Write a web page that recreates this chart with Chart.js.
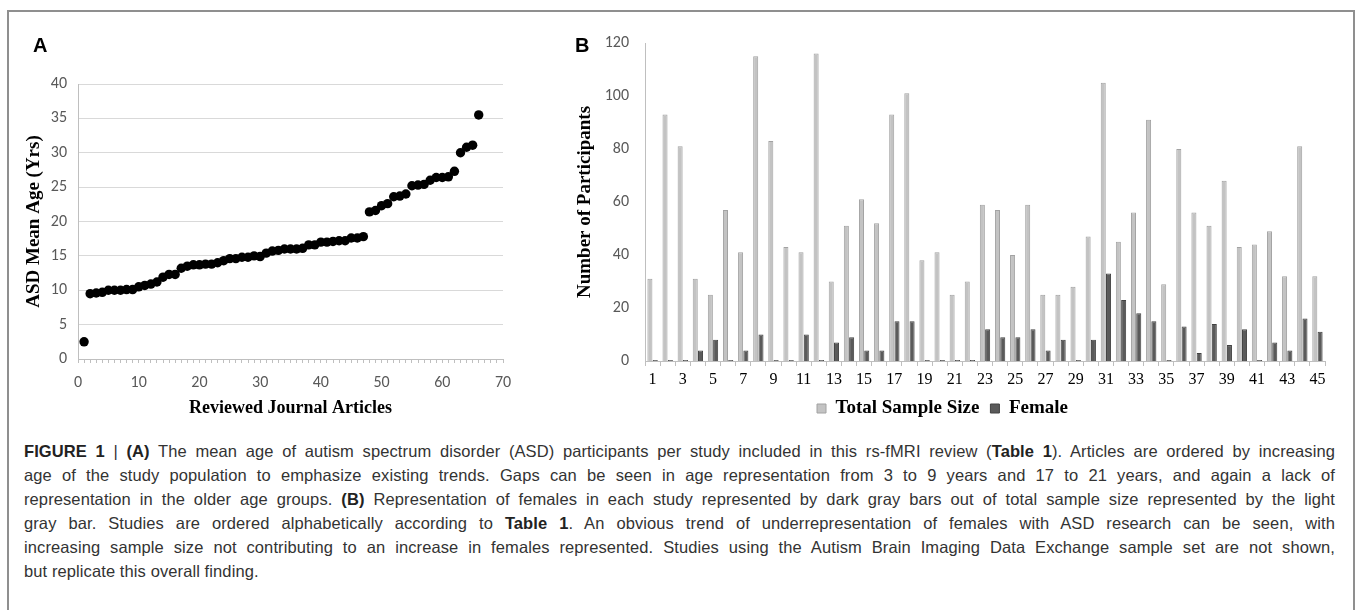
<!DOCTYPE html>
<html><head><meta charset="utf-8">
<script src="https://cdn.jsdelivr.net/npm/chart.js@4.4.1/dist/chart.umd.min.js"></script>
<style>
html,body{margin:0;padding:0;background:#fff}
body{width:1356px;height:610px;overflow:hidden;position:relative;font-family:'Liberation Sans',Arial,sans-serif}
#frame{position:absolute;left:7px;top:10px;width:1348px;height:640px;border:2px solid #8f8f8f;box-sizing:border-box}
#wa{position:absolute;left:0;top:0;width:560px;height:420px}
#wb{position:absolute;left:560px;top:0;width:790px;height:428px}
.lab{position:absolute;font-weight:bold;font-size:20px;font-family:'Liberation Sans',Arial,sans-serif;color:#000;line-height:20px}
#cap{position:absolute;left:24px;top:439px;font-size:16.5px;color:#333;line-height:24px;letter-spacing:0.1px}
#cap div{width:1311px;white-space:nowrap}
#cap b{color:#222}
</style></head>
<body>
<div id="frame"></div>
<div id="wa"><canvas id="ca" width="560" height="420"></canvas></div>
<div id="wb"><canvas id="cb" width="790" height="428"></canvas></div>
<div class="lab" style="left:33px;top:35px">A</div>
<div class="lab" style="left:575px;top:35px">B</div>
<div id="cap">
<div class="fit"><b>FIGURE 1</b> | <b>(A)</b> The mean age of autism spectrum disorder (ASD) participants per study included in this rs-fMRI review (<b>Table 1</b>). Articles are ordered by increasing</div>
<div class="fit">age of the study population to emphasize existing trends. Gaps can be seen in age representation from 3 to 9 years and 17 to 21 years, and again a lack of</div>
<div class="fit">representation in the older age groups. <b>(B)</b> Representation of females in each study represented by dark gray bars out of total sample size represented by the light</div>
<div class="fit">gray bar. Studies are ordered alphabetically according to <b>Table 1</b>. An obvious trend of underrepresentation of females with ASD research can be seen, with</div>
<div class="fit">increasing sample size not contributing to an increase in females represented. Studies using the Autism Brain Imaging Data Exchange sample set are not shown,</div>
<div>but replicate this overall finding.</div>
</div>
<script>
// ---- Panel A data ----
const articleIndex = [1,2,3,4,5,6,7,8,9,10,11,12,13,14,15,16,17,18,19,20,21,22,23,24,25,26,27,28,29,30,31,32,33,34,35,36,37,38,39,40,41,42,43,44,45,46,47,48,49,50,51,52,53,54,55,56,57,58,59,60,61,62,63,64,65,66];
const meanAge = [2.5,9.5,9.6,9.7,10.0,10.0,10.0,10.1,10.1,10.5,10.7,10.9,11.2,11.9,12.3,12.3,13.2,13.5,13.7,13.7,13.8,13.8,14.0,14.3,14.6,14.6,14.8,14.8,15.0,14.9,15.4,15.7,15.8,16.0,16.0,16.0,16.1,16.6,16.6,17.0,17.0,17.1,17.2,17.2,17.6,17.6,17.8,21.4,21.6,22.3,22.6,23.6,23.7,24.0,25.2,25.3,25.4,26.0,26.4,26.4,26.5,27.3,30.0,30.8,31.1,35.5];
const ageTickStep = 5;
// ---- Panel B data ----
const studyLabels = ['1','2','3','4','5','6','7','8','9','10','11','12','13','14','15','16','17','18','19','20','21','22','23','24','25','26','27','28','29','30','31','32','33','34','35','36','37','38','39','40','41','42','43','44','45'];
const totalSample = [31,93,81,31,25,57,41,115,83,43,41,116,30,51,61,52,93,101,38,41,25,30,59,57,40,59,25,25,28,47,105,45,56,91,29,80,56,51,68,43,44,49,32,81,32];
const femaleCount = [0,0,0,4,8,0,4,10,0,0,10,0,7,9,4,4,15,15,0,0,0,0,12,9,9,12,4,8,0,8,33,23,18,15,0,13,3,14,6,12,0,7,4,16,11];

// justify caption lines (word spacing) to the reference line width
document.querySelectorAll('#cap div.fit').forEach(d=>{
  const r = document.createRange(); r.selectNodeContents(d);
  const w = r.getBoundingClientRect().width;
  const n = (d.textContent.match(/ /g)||[]).length;
  d.style.wordSpacing = ((1311 - w) / n) + 'px';
});

const tickFont = {family:"Carlito, 'Open Sans', 'Liberation Sans', sans-serif", size:16};
const serifFam = "'Liberation Serif', 'Times New Roman', serif";

new Chart(document.getElementById('ca'), {
  type:'scatter',
  data:{datasets:[{data:articleIndex.map((x,i)=>({x:x,y:meanAge[i]})), backgroundColor:'#000', borderColor:'#000', pointRadius:4.7, pointHoverRadius:4.7, borderWidth:0}]},
  options:{
    responsive:false, animation:false,
    plugins:{legend:{display:false}, tooltip:{enabled:false}},
    layout:{padding:{left:0,right:57,top:84,bottom:0}},
    scales:{
      x:{type:'linear', min:0, max:70,
        ticks:{stepSize:1, maxTicksLimit:200, autoSkip:false, maxRotation:0, padding:10, color:'#595959', font:tickFont,
          callback:(v)=> (v%10===0 ? String(v) : '')},
        grid:{drawOnChartArea:false, tickLength:4, color:'#bfbfbf', tickColor:'#bfbfbf'},
        border:{color:'#bfbfbf', width:1},
        title:{display:true, text:'Reviewed Journal Articles', color:'#000', font:{family:serifFam, size:18, weight:'bold'}, padding:{top:2,bottom:1}},
        afterFit:(s)=>{s.height=61;}
      },
      y:{min:0, max:40,
        ticks:{stepSize:ageTickStep, padding:11, color:'#595959', font:tickFont},
        grid:{color:'#d9d9d9', drawTicks:false},
        border:{color:'#bfbfbf', width:1},
        title:{display:true, text:'ASD Mean Age (Yrs)', color:'#000', font:{family:serifFam, size:19, weight:'bold'}, padding:{top:23,bottom:0}},
        afterFit:(s)=>{s.width=78;}
      }
    }
  }
});

new Chart(document.getElementById('cb'), {
  type:'bar',
  data:{labels:studyLabels, datasets:[
    {label:'Total Sample Size', data:totalSample, backgroundColor:'#c3c3c3', borderColor:'#a2a2a2', borderWidth:1, borderSkipped:'bottom', categoryPercentage:0.7, barPercentage:0.95},
    {label:'Female', data:femaleCount, backgroundColor:'#5a5a5a', borderColor:'#424242', borderWidth:1, borderSkipped:'bottom', minBarLength:1, categoryPercentage:0.7, barPercentage:0.95}
  ]},
  options:{
    responsive:false, animation:false,
    layout:{padding:{left:0,right:25,top:43,bottom:0}},
    plugins:{tooltip:{enabled:false},
      legend:{position:'bottom', labels:{boxWidth:9, boxHeight:9, padding:11, color:'#000', font:{family:serifFam, size:19, weight:'bold'}}}},
    scales:{
      x:{
        ticks:{autoSkip:false, maxRotation:0, padding:4, color:'#000', font:{family:serifFam, size:16},
          callback:function(v,i){ return i%2===0 ? studyLabels[i] : ''; }},
        grid:{offset:true, drawOnChartArea:false, tickLength:5, color:'#bfbfbf'},
        border:{color:'#bfbfbf', width:1},
        afterFit:(s)=>{s.height=27;}
      },
      y:{min:0, max:120,
        ticks:{stepSize:20, padding:16, color:'#595959', font:tickFont},
        grid:{display:false, drawTicks:false},
        border:{color:'#bfbfbf', width:1},
        title:{display:true, text:'Number of Participants', color:'#000', font:{family:serifFam, size:19, weight:'bold'}, padding:{top:14,bottom:0}},
        afterFit:(s)=>{s.width=85;}
      }
    }
  }
});
</script>
</body></html>
